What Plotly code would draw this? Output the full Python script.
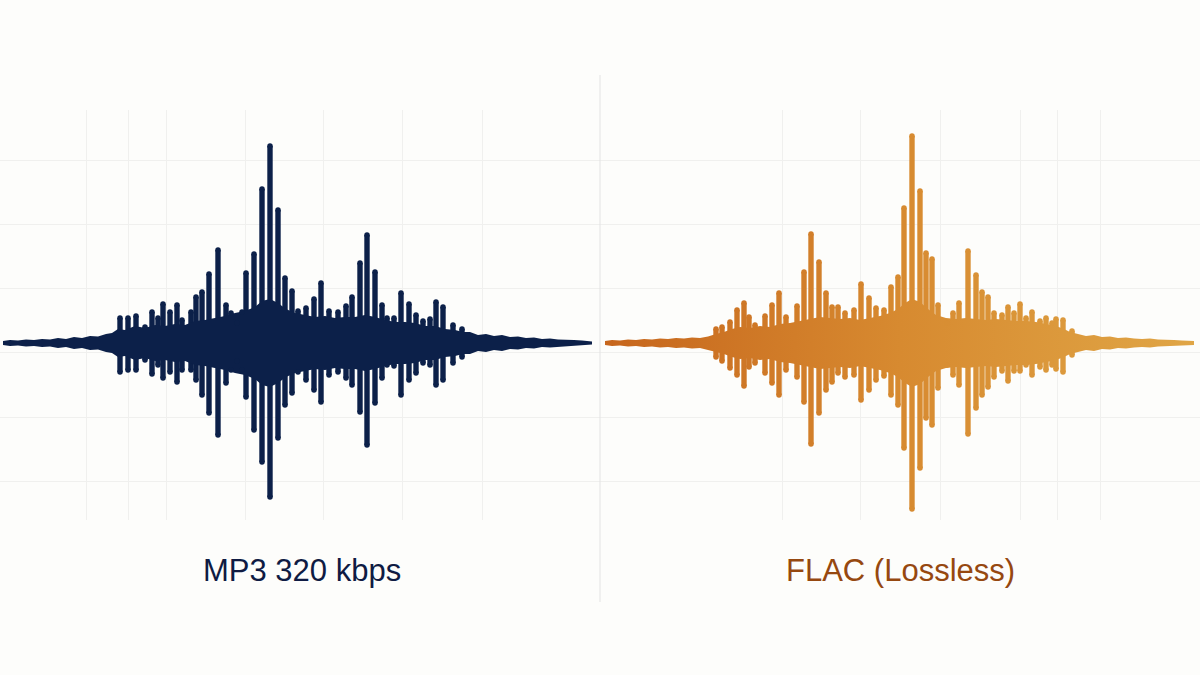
import plotly.graph_objects as go

# ---------------- data (time in samples, amplitude in % of full scale) ----------------
# MP3 panel: body envelope
mp3_env_t = [3, 10, 18, 26, 34, 42, 50, 58, 66, 74, 82, 90, 98, 106, 112, 118, 125, 135, 145, 155,
             165, 175, 185, 195, 205, 215, 225, 235, 245, 255, 262, 270, 278, 286, 295, 305, 315,
             325, 335, 345, 355, 365, 375, 385, 395, 405, 415, 425, 435, 445, 455, 463, 470, 478,
             486, 494, 502, 510, 518, 526, 534, 542, 550, 558, 566, 574, 582, 592]
mp3_env_a = [1.0, 1.5, 1.2, 1.8, 1.5, 2.0, 1.8, 2.5, 2.0, 3.0, 2.5, 3.5, 3.2, 4.5, 5.0, 7.0, 6.5, 8.5,
             7.5, 9.0, 8.5, 9.5, 9.0, 11.0, 11.5, 12.5, 13.5, 15.0, 16.0, 18.0, 21.0, 22.0, 20.0, 17.0,
             15.0, 14.0, 13.0, 13.5, 12.5, 13.0, 13.0, 14.0, 13.0, 11.5, 10.5, 10.5, 10.0, 8.5, 8.5,
             7.0, 6.5, 5.5, 5.5, 4.0, 4.5, 3.5, 4.0, 3.0, 3.2, 2.5, 2.8, 2.0, 2.2, 1.8, 1.8, 1.5,
             1.2, 0.8]
# MP3 panel: transient spikes
mp3_t = [120, 128, 136, 145, 152, 158, 163, 170, 177, 182, 191, 196, 202, 209, 218, 226, 231, 237,
         242, 246, 254, 262, 270, 278, 285, 292, 298, 306, 314, 321, 329, 338, 346, 352, 360, 367,
         375, 382, 387, 394, 401, 409, 416, 423, 430, 436, 443, 453, 462]
mp3_up = [12.5, 12.5, 13.5, 8.0, 15.5, 12.5, 19.5, 15.5, 19.0, 11.5, 15.5, 23.0, 25.5, 34.5, 46.5, 19.0,
          15.0, 10.0, 15.5, 35.0, 44.5, 77.0, 98.5, 66.5, 32.5, 26.0, 16.0, 17.5, 22.0, 30.0, 16.0,
          15.5, 18.5, 23.0, 40.0, 54.0, 35.5, 19.0, 12.5, 12.5, 25.0, 19.5, 14.0, 11.0, 12.0, 20.5,
          18.0, 9.0, 7.0]
mp3_dn = [14.5, 13.5, 13.5, 8.5, 15.5, 11.0, 17.5, 14.5, 19.5, 13.5, 13.5, 18.5, 26.0, 35.0, 46.0, 20.0,
          13.5, 9.0, 13.5, 27.0, 43.5, 59.5, 77.0, 47.5, 31.0, 25.0, 14.5, 18.5, 23.5, 29.5, 16.0,
          14.5, 17.5, 21.0, 34.5, 51.0, 30.0, 17.5, 11.0, 11.5, 26.0, 18.5, 15.0, 10.0, 11.0, 21.0,
          18.5, 10.0, 7.0]

# FLAC panel: body envelope
flac_env_t = [5, 12, 20, 28, 36, 44, 52, 60, 68, 76, 84, 92, 100, 108, 116, 124, 132, 140, 150, 160,
              170, 180, 190, 200, 210, 220, 230, 240, 250, 260, 270, 280, 290, 298, 305, 312, 320,
              328, 336, 346, 356, 366, 376, 386, 396, 406, 416, 426, 436, 446, 456, 464, 470, 478,
              486, 494, 502, 510, 518, 526, 534, 542, 550, 558, 566, 574, 582, 594]
flac_env_a = [1.0, 1.5, 1.2, 1.8, 1.5, 2.0, 1.8, 2.2, 2.0, 2.5, 2.2, 2.8, 2.5, 3.2, 4.5, 5.5, 7.0, 8.0,
              7.5, 8.5, 8.0, 9.5, 10.0, 11.0, 12.0, 13.0, 12.5, 12.0, 12.5, 11.5, 12.5, 13.5, 15.0,
              17.0, 20.0, 22.0, 20.5, 17.0, 14.0, 12.5, 12.0, 12.5, 12.0, 11.5, 12.0, 11.5, 11.0,
              11.0, 10.5, 9.5, 8.5, 7.0, 5.5, 4.5, 3.5, 4.0, 3.0, 3.2, 2.5, 2.8, 2.2, 2.0, 2.2, 1.8,
              1.8, 1.5, 1.2, 1.0]
# FLAC panel: transient spikes
flac_t = [116, 122, 130, 137, 144, 149, 155, 165, 172, 179, 186, 197, 204, 211, 219, 226, 232, 238,
          245, 254, 261, 269, 276, 284, 291, 298, 304, 312, 320, 326, 332, 338, 347, 353, 359, 368,
          376, 382, 388, 394, 402, 408, 414, 420, 426, 432, 440, 446, 452, 456, 463, 472]
flac_up = [7.0, 8.0, 10.5, 16.5, 20.0, 13.0, 9.0, 13.5, 19.0, 25.0, 13.0, 18.5, 35.5, 54.5, 40.5, 25.0,
           18.0, 18.0, 15.0, 16.5, 29.5, 22.5, 17.5, 16.5, 28.0, 33.0, 67.5, 103.5, 76.0, 45.0, 42.0,
           19.0, 10.0, 15.0, 20.0, 46.0, 34.0, 25.5, 23.0, 15.0, 14.0, 18.0, 15.0, 19.5, 12.5, 15.5,
           11.0, 12.5, 10.0, 12.0, 11.5, 6.0]
flac_dn = [7.0, 9.0, 12.5, 16.0, 21.5, 12.0, 10.0, 15.0, 20.0, 26.0, 13.5, 17.0, 29.5, 50.5, 35.0, 23.5,
           19.5, 15.0, 17.0, 16.0, 28.5, 23.5, 18.5, 16.5, 26.0, 31.0, 52.5, 83.0, 62.5, 37.5, 41.0,
           22.5, 11.0, 16.0, 21.0, 45.5, 32.5, 26.0, 22.0, 17.0, 14.0, 19.0, 14.0, 14.0, 11.0, 16.0,
           12.0, 13.5, 11.0, 13.0, 14.5, 6.0]

panel_labels = ["MP3 320 kbps", "FLAC (Lossless)"]

# grid positions
x_grid_mp3 = [86, 128, 166, 245, 323, 402, 482]
x_grid_flac = [182, 260, 340, 420, 457, 500]
y_grid = [91.5, 59.5, 27.5, -4.5, -37.0, -69.0]

# ---------------- styles ----------------
NAVY = "#0c2049"
FLAC_SCALE = [[0.0, "#c6651c"], [0.5, "#d78a30"], [1.0, "#e0a646"]]
BG = "#fdfdfb"
GRID = "#f0f0ee"

fig = go.Figure()


def add_panel(env_t, env_a, t, up, dn, xa, ya, color=None, scale=None):
    poly_x = list(env_t) + list(env_t)[::-1]
    poly_y = list(env_a) + [-v for v in env_a][::-1]
    body = dict(x=poly_x, y=poly_y, fill="toself", mode="lines",
                line=dict(width=0), hoverinfo="skip", showlegend=False,
                xaxis=xa, yaxis=ya)
    if scale is None:
        body["fillcolor"] = color
    else:
        body["fillgradient"] = dict(type="horizontal", colorscale=scale, start=0, stop=600)
    fig.add_trace(go.Scatter(**body))

    heights = [u + d for u, d in zip(up, dn)]
    base = [-d for d in dn]
    if scale is None:
        mk = dict(color=color, line=dict(width=0))
        mk_pts = dict(color=color, size=5.5)
    else:
        mk = dict(color=list(t), colorscale=scale, cmin=0, cmax=600, line=dict(width=0))
        mk_pts = dict(color=list(t) + list(t), colorscale=scale, cmin=0, cmax=600, size=5.5)
    fig.add_trace(go.Bar(x=t, y=heights, base=base, width=5.4, marker=mk,
                         hoverinfo="skip", showlegend=False, xaxis=xa, yaxis=ya))
    # rounded tips
    fig.add_trace(go.Scatter(x=list(t) + list(t), y=list(up) + base, mode="markers",
                             marker=mk_pts, hoverinfo="skip", showlegend=False,
                             xaxis=xa, yaxis=ya))


add_panel(mp3_env_t, mp3_env_a, mp3_t, mp3_up, mp3_dn, "x", "y", color=NAVY)
add_panel(flac_env_t, flac_env_a, flac_t, flac_up, flac_dn, "x2", "y2", scale=FLAC_SCALE)

y_dom = [(675 - 520) / 675, (675 - 110) / 675]
common_x = dict(range=[0, 600], showticklabels=False, zeroline=False, showline=False,
                gridcolor=GRID, gridwidth=1, tickmode="array", ticks="", fixedrange=True)
common_y = dict(range=[-88.5, 116.5], domain=y_dom, showticklabels=False, zeroline=False,
                showline=False, gridcolor=GRID, gridwidth=1, tickmode="array",
                tickvals=y_grid, ticks="", fixedrange=True)

label_y = (675 - 570) / 675
fig.update_layout(
    width=1200, height=675,
    margin=dict(l=0, r=0, t=0, b=0),
    paper_bgcolor=BG, plot_bgcolor=BG,
    barmode="overlay",
    xaxis=dict(domain=[0, 0.5], tickvals=x_grid_mp3, anchor="y", **common_x),
    xaxis2=dict(domain=[0.5, 1.0], tickvals=x_grid_flac, anchor="y2", **common_x),
    yaxis=dict(anchor="x", **common_y),
    yaxis2=dict(anchor="x2", **common_y),
    shapes=[dict(type="line", xref="paper", yref="paper", x0=0.5, x1=0.5,
                 y0=(675 - 602) / 675, y1=(675 - 75) / 675,
                 line=dict(color="#e3e3e3", width=1))],
    annotations=[
        dict(text=panel_labels[0], x=302 / 1200, y=label_y, xref="paper", yref="paper",
             xanchor="center", yanchor="middle", showarrow=False,
             font=dict(family="Liberation Sans, Arial", size=31, color="#0f1b43")),
        dict(text=panel_labels[1], x=900 / 1200, y=label_y, xref="paper", yref="paper",
             xanchor="center", yanchor="middle", showarrow=False,
             font=dict(family="Liberation Sans, Arial", size=31, color="#964810")),
    ],
)

fig.write_html(
    "out.html",
    config={"displayModeBar": False},
    post_script="document.body.style.margin='0px';document.body.style.background='#fdfdfb';",
)
